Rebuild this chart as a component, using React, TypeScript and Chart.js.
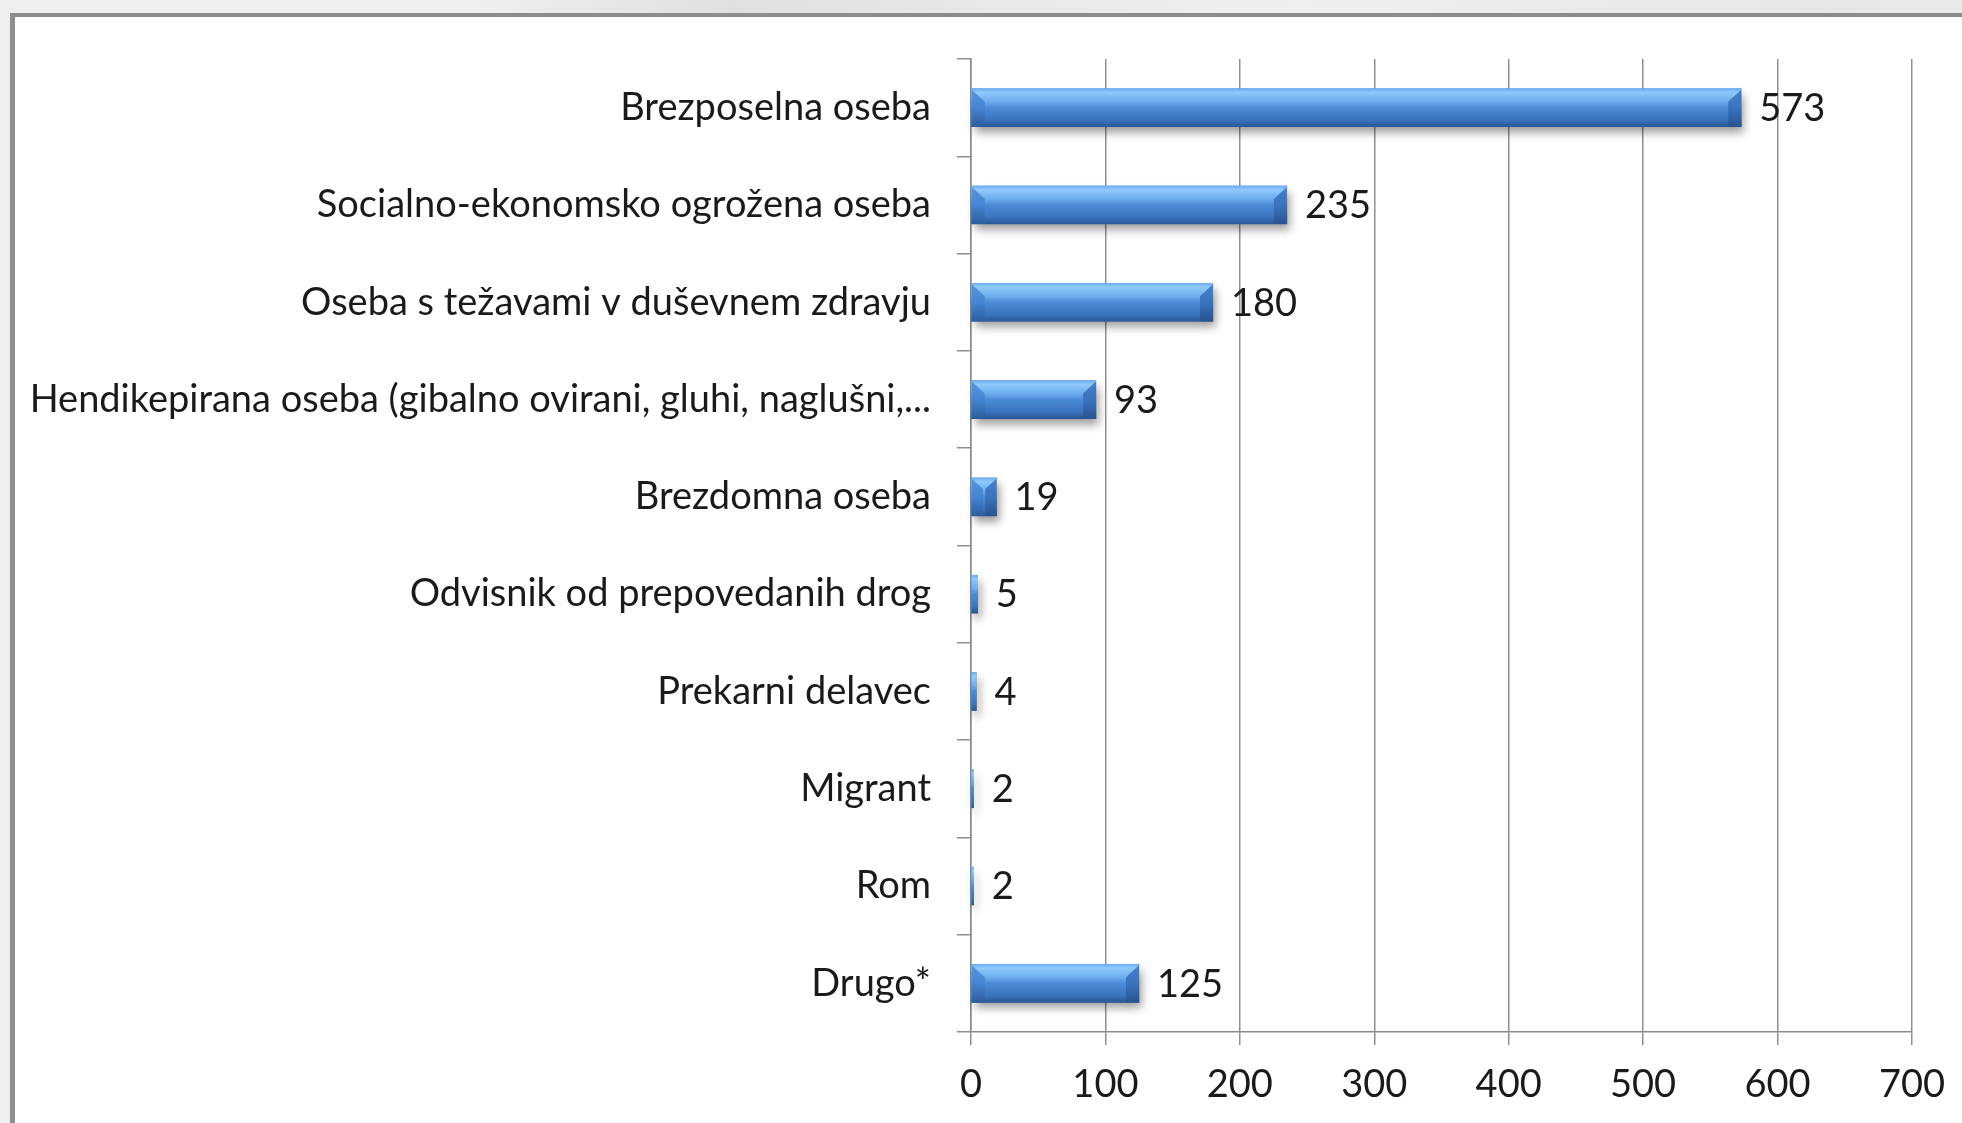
import React, { useEffect, useRef } from "react";
import { Chart, registerables } from "chart.js";

Chart.register(...registerables);

const categories = [
  "Brezposelna oseba",
  "Socialno-ekonomsko ogrožena oseba",
  "Oseba s težavami v duševnem zdravju",
  "Hendikepirana oseba (gibalno ovirani, gluhi, naglušni,...",
  "Brezdomna oseba",
  "Odvisnik od prepovedanih drog",
  "Prekarni delavec",
  "Migrant",
  "Rom",
  "Drugo*",
];
const values = [573, 235, 180, 93, 19, 5, 4, 2, 2, 125];
const xTicks = [0, 100, 200, 300, 400, 500, 600, 700];

const FONT = "Lato, 'Open Sans', sans-serif";
const FONT_SIZE = 38;
const BAR_H = 38;

const barFxPlugin = {
  id: "barFx",
  beforeDatasetsDraw(chart: any) {
    const ctx = chart.ctx;
    const meta = chart.getDatasetMeta(0);
    ctx.save();
    meta.data.forEach((el: any) => {
      const x0 = Math.min(el.x, el.base);
      const w = Math.abs(el.x - el.base);
      const top = el.y - BAR_H / 2;
      ctx.shadowColor = "rgba(0,0,0,0.4)";
      ctx.shadowBlur = 9;
      ctx.shadowOffsetX = 3;
      ctx.shadowOffsetY = 6;
      ctx.fillStyle = "rgba(40,70,120,1)";
      ctx.fillRect(x0, top, w, BAR_H);
    });
    ctx.restore();
  },
  afterDatasetsDraw(chart: any) {
    const ctx = chart.ctx;
    const meta = chart.getDatasetMeta(0);
    ctx.save();
    meta.data.forEach((el: any, i: number) => {
      const x0 = Math.min(el.x, el.base);
      const x1 = Math.max(el.x, el.base);
      const top = el.y - BAR_H / 2;
      const bottom = el.y + BAR_H / 2;
      const w = x1 - x0;
      const b = Math.min(13, w / 2.2);
      if (w > 10) {
        const gl = ctx.createLinearGradient(0, top, 0, bottom);
        gl.addColorStop(0, "#5796de");
        gl.addColorStop(0.5, "#4585d2");
        gl.addColorStop(1, "#2d5d9e");
        ctx.beginPath();
        ctx.moveTo(x0, top + 1);
        ctx.lineTo(x0 + b, top + b);
        ctx.lineTo(x0 + b, bottom);
        ctx.lineTo(x0, bottom);
        ctx.closePath();
        ctx.fillStyle = gl;
        ctx.fill();
        const gr = ctx.createLinearGradient(0, top, 0, bottom);
        gr.addColorStop(0, "#4680cc");
        gr.addColorStop(0.5, "#3a74bf");
        gr.addColorStop(1, "#28538f");
        ctx.beginPath();
        ctx.moveTo(x1, top + 1);
        ctx.lineTo(x1 - b, top + b);
        ctx.lineTo(x1 - b, bottom);
        ctx.lineTo(x1, bottom);
        ctx.closePath();
        ctx.fillStyle = gr;
        ctx.fill();
      }
      ctx.fillStyle = "#1a1a1a";
      ctx.font = `${FONT_SIZE}px ${FONT}`;
      ctx.textAlign = "left";
      ctx.textBaseline = "middle";
      ctx.fillText(String(values[i]), x1 + 18, el.y + 1);
    });
    ctx.restore();
  },
};

export default function App() {
  const ref = useRef<HTMLCanvasElement | null>(null);
  useEffect(() => {
    const canvas = ref.current!;
    const chart = new Chart(canvas, {
      type: "bar",
      data: {
        labels: categories,
        datasets: [
          {
            data: values,
            barThickness: BAR_H,
            borderWidth: 0,
            backgroundColor: (c: any) => {
              const chartObj = c.chart;
              const ys = chartObj.scales && chartObj.scales.y;
              if (!ys || c.dataIndex === undefined) return "#3f7fcb";
              const yc = ys.getPixelForValue(c.dataIndex);
              if (!isFinite(yc)) return "#3f7fcb";
              const g = chartObj.ctx.createLinearGradient(0, yc - BAR_H / 2, 0, yc + BAR_H / 2);
              g.addColorStop(0, "#6eaef0");
              g.addColorStop(0.1, "#8ecaf9");
              g.addColorStop(0.35, "#6cabee");
              g.addColorStop(0.5, "#4b8bd6");
              g.addColorStop(0.82, "#3a74be");
              g.addColorStop(1, "#2a5796");
              return g;
            },
          },
        ],
      },
      options: {
        indexAxis: "y",
        responsive: false,
        animation: false,
        events: [],
        layout: { padding: { top: 59, right: 48, left: 0, bottom: 0 } },
        plugins: { legend: { display: false }, tooltip: { enabled: false } },
        scales: {
          x: {
            min: 0,
            max: 700,
            afterBuildTicks: (s: any) => {
              s.ticks = xTicks.map((v) => ({ value: v }));
            },
            afterFit: (s: any) => {
              s.height = 91;
            },
            border: { display: true, color: "#8a8a8a", width: 1.5 },
            grid: {
              color: "#8f8f8f",
              lineWidth: 1.5,
              drawTicks: true,
              tickLength: 13,
              tickColor: "#8f8f8f",
            },
            ticks: {
              color: "#1a1a1a",
              padding: 17,
              font: { family: FONT, size: FONT_SIZE },
              maxRotation: 0,
            },
          },
          y: {
            type: "category",
            afterFit: (s: any) => {
              s.width = 971;
            },
            border: { display: true, color: "#8a8a8a", width: 1.5 },
            grid: {
              offset: true,
              drawOnChartArea: false,
              drawTicks: true,
              tickLength: 14,
              color: "#8f8f8f",
              lineWidth: 1.5,
            },
            ticks: {
              color: "#1a1a1a",
              padding: 26,
              autoSkip: false,
              font: { family: FONT, size: FONT_SIZE },
            },
          },
        },
      },
      plugins: [barFxPlugin],
    });
    return () => chart.destroy();
  }, []);

  return (
    <div
      style={{
        position: "fixed",
        left: 0,
        top: 0,
        width: 1962,
        height: 1123,
        overflow: "hidden",
        background:
          "linear-gradient(100deg, #eef0ef 0%, #eef0ef 22%, #dfe1e1 34%, #e9ebea 48%, #eef0ef 60%, #e6e8e8 85%, #eef0ef 100%)",
      }}
    >
      <div
        style={{
          position: "absolute",
          left: 10,
          top: 13,
          width: 2000,
          height: 1200,
          background: "#ffffff",
          borderTop: "4px solid #8c8c8c",
          borderLeft: "5px solid #8f8f8f",
          boxSizing: "border-box",
        }}
      />
      <canvas
        ref={ref}
        width={1962}
        height={1123}
        style={{ position: "absolute", left: 0, top: 0, width: 1962, height: 1123 }}
      />
    </div>
  );
}
